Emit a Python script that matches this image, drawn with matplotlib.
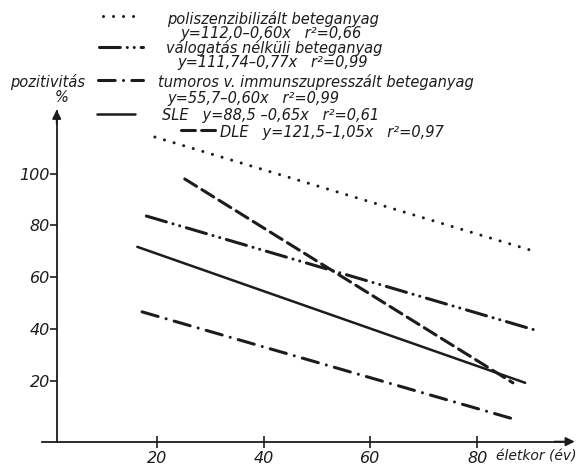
import matplotlib
matplotlib.use('Agg')
import matplotlib.pyplot as plt
from matplotlib.lines import Line2D

# ---- data ----
series_names = ["poliszenzibilizált beteganyag",
                "válogatás nélküli beteganyag",
                "tumoros v. immunszupresszált beteganyag",
                "SLE",
                "DLE"]
equations = ["y=112,0–0,60x   r²=0,66",
             "y=111,74–0,77x   r²=0,99",
             "y=55,7–0,60x   r²=0,99",
             "y=88,5 –0,65x   r²=0,61",
             "y=121,5–1,05x   r²=0,97"]
age_start = [19.6, 18.0, 17.2, 16.3, 25.2]
age_end = [91.2, 90.8, 86.7, 89.0, 86.7]
pos_start = [114.1, 83.6, 46.6, 71.7, 97.9]
pos_end = [69.7, 39.6, 5.3, 19.2, 19.2]
x_ticks = [20, 40, 60, 80]
y_ticks = [20, 40, 60, 80, 100]
y_label = ["pozitivitás", "%"]
x_label = "életkor (év)"

plt.rcParams['lines.scale_dashes'] = False
INK = '#1c1c1c'
TXT = dict(family='DejaVu Sans', style='italic', size=10.5, color=INK)
TICK = dict(family='DejaVu Sans', style='italic', size=11.5, color=INK)

styles = [
    dict(linestyle=(0, (0.01, 7.2)), lw=2.2, dash_capstyle='round'),
    dict(linestyle=(0, (15, 5, 0.01, 5, 0.01, 5)), lw=2.2, dash_capstyle='round'),
    dict(linestyle=(0, (12, 6, 0.01, 6)), lw=2.2, dash_capstyle='round'),
    dict(linestyle='-', lw=1.8, solid_capstyle='round'),
    dict(linestyle=(0, (10, 4.5)), lw=2.2, dash_capstyle='round'),
]

W, H = 578, 474
fig = plt.figure(figsize=(W / 100, H / 100), dpi=100)
ax = fig.add_axes([0, 0, 1, 1])
ax.set_xlim(-9.43, 98.9)
ax.set_ylim(-16.0, 167.0)

for i in range(len(series_names)):
    ax.plot([age_start[i], age_end[i]], [pos_start[i], pos_end[i]], color=INK, **styles[i])

# axes
for s in ['top', 'right']:
    ax.spines[s].set_visible(False)
ax.spines['left'].set_position(('data', 1.2))
ax.spines['left'].set_bounds(-3.5, 124)
ax.spines['bottom'].set_position(('data', -3.5))
ax.spines['bottom'].set_bounds(-1.5, 97)
for s in ['left', 'bottom']:
    ax.spines[s].set_linewidth(1.3)
    ax.spines[s].set_color(INK)
ax.set_xticks(x_ticks, labels=[str(v) for v in x_ticks], **TICK)
ax.set_yticks(y_ticks, labels=[str(v) for v in y_ticks], **TICK)
ax.tick_params(axis='y', direction='out', length=5, width=1.2, pad=0, color=INK)
ax.tick_params(axis='x', direction='inout', length=8, width=1.2, pad=3, color=INK)
ax.annotate('', xy=(1.2, 125.7), xytext=(1.2, 118),
            arrowprops=dict(arrowstyle='-|>', lw=1.3, color=INK, mutation_scale=13))
ax.annotate('', xy=(98.8, -3.5), xytext=(94, -3.5),
            arrowprops=dict(arrowstyle='-|>', lw=1.3, color=INK, mutation_scale=13))


def P(px, py):
    return px / W, 1 - py / H


# legend (manual, as in the original drawing)
leg_lines = [((103, 143), 16), ((99, 143), 47), ((98, 143), 80), ((97, 135), 114), ((181, 218), 130)]
name_pos = [(167, 24), (166, 53), (158, 87), (162, 120), (220, 137)]
eq_pos = [(180, 38), (177, 67), (167, 103)]
for i in range(len(series_names)):
    (xa, xb), yy = leg_lines[i]
    (fx1, fy1), (fx2, fy2) = P(xa, yy), P(xb, yy)
    fig.add_artist(Line2D([fx1, fx2], [fy1, fy2], transform=fig.transFigure, color=INK, **styles[i]))
    nx, ny = name_pos[i]
    if i < 3:
        fig.text(*P(nx, ny), series_names[i], ha='left', va='baseline', **TXT)
        ex, ey = eq_pos[i]
        fig.text(*P(ex, ey), equations[i], ha='left', va='baseline', **TXT)
    else:
        fig.text(*P(nx, ny), series_names[i] + "   " + equations[i], ha='left', va='baseline', **TXT)

fig.text(*P(10, 87), y_label[0], ha='left', va='baseline', **TXT)
fig.text(*P(62, 98), y_label[1], ha='center', va='center', **TXT)
fig.text(*P(496, 457), x_label, ha='left', va='center', family='DejaVu Sans', style='italic',
         size=10, color=INK)

fig.savefig('out.png', dpi=100)
